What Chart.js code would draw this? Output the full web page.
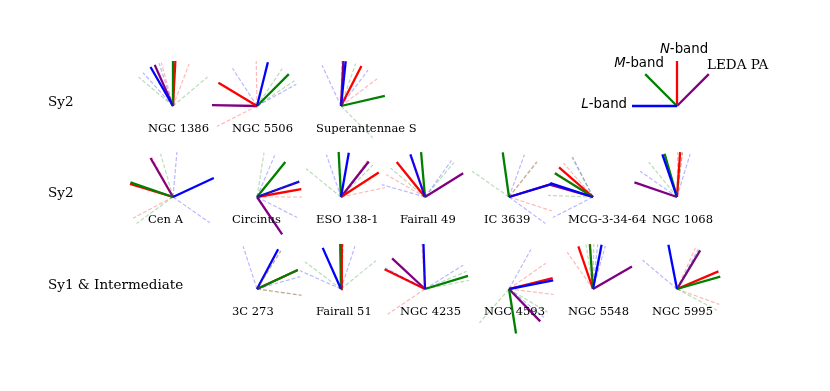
<!DOCTYPE html>
<html>
<head>
<meta charset="utf-8">
<script src="https://cdn.jsdelivr.net/npm/chart.js@4.4.1/dist/chart.umd.min.js"></script>
<style>
  html, body { margin: 0; padding: 0; background: #fff; }
  canvas { display: block; }
</style>
</head>
<body>
<canvas id="pa" width="830" height="391"></canvas>
<script>
// position angles in degrees, east of north (east = left)
const names = ['NGC 1386', 'NGC 5506', 'Superantennae S',
  'Cen A', 'Circinus', 'ESO 138-1', 'Fairall 49', 'IC 3639', 'MCG-3-34-64', 'NGC 1068',
  '3C 273', 'Fairall 51', 'NGC 4235', 'NGC 4593', 'NGC 5548', 'NGC 5995']
const groups = ['Sy2', 'Sy2', 'Sy1 & Intermediate']
const groupOf = [0, 0, 0, 1, 1, 1, 1, 1, 1, 1, 2, 2, 2, 2, 2, 2]

const lPA = [30, -14, -6, -65, -70, -10, 19, -73, 72, 19, -28, 24, 2, -79, -11, 11]
const lErr = [12, 47, 31, 60, 47, 29, 55, 53, 45, 36, 46, 42, 60, 50, 5, 39]
const mPA = [0, -45, -77, 71, -39, 3, 5, 8, 58, 16, -65, 1, -73, -171, 4, -74]
const mErr = [50, 11, 58, 55, 30, 48, 45, 47, 30, 23, 33, 52, 6, 50, 5, 44]
const nPA = [-3, 59, -27, 73, -80, -57, 39, -73, 49, -4, -65, -1, 64, -76, 19, -67]
const nErr = [18, 58, 26, 45, 10, 21, 21, 35, 8, 3, 33, 2, 60, 21, 16, 43]
const ledaPA = [24, 89, -3, 30, -146, -38, -58, null, 74, 71, null, null, 47, -136, -60, -31]

const bandNames = ['L-band', 'M-band', 'N-band', 'LEDA PA']
const legendPA = [90, 45, 0, -45]

// layout
const colX0 = 173, colStep = 84
const rowY = [106, 197, 289]
const firstCol = [0, 0, 1]
const rayLen = 45
const colors = ['#0000ff', '#008000', '#ff0000', '#800080']
const faint = ['rgba(0,0,255,0.28)', 'rgba(0,128,0,0.28)', 'rgba(255,0,0,0.28)']

const centers = []
const seen = [0, 0, 0]
names.forEach((n, i) => {
  const g = groupOf[i]
  centers.push({x: colX0 + colStep * (firstCol[g] + seen[g]), y: rowY[g]})
  seen[g]++
})

function ray(c, pa, color, dashed) {
  const r = pa * Math.PI / 180
  return {
    data: [{x: c.x, y: c.y}, {x: c.x - rayLen * Math.sin(r), y: c.y - rayLen * Math.cos(r)}],
    showLine: true,
    borderColor: color,
    borderWidth: dashed ? 1.2 : 2.3,
    borderDash: dashed ? [4, 2] : [],
    pointRadius: 0,
    fill: false
  }
}

const datasets = []
names.forEach((n, i) => {
  const c = centers[i]
  const pas = [lPA[i], mPA[i], nPA[i]]
  const errs = [lErr[i], mErr[i], nErr[i]]
  pas.forEach((p, b) => {
    datasets.push(ray(c, p - errs[b], faint[b], true))
    datasets.push(ray(c, p + errs[b], faint[b], true))
  })
  pas.forEach((p, b) => datasets.push(ray(c, p, colors[b], false)))
  if (ledaPA[i] !== null) datasets.push(ray(c, ledaPA[i], colors[3], false))
})
const legendC = {x: 677, y: 106}
legendPA.forEach((p, b) => datasets.push(ray(legendC, p, colors[b], false)))

// text made of parts with different fonts (italic band letter)
function drawParts(ctx, parts, x, y, align) {
  let w = 0
  parts.forEach(p => { ctx.font = p.font; w += ctx.measureText(p.t).width })
  let sx = align === 'right' ? x - w : align === 'center' ? x - w / 2 : x
  parts.forEach(p => {
    ctx.font = p.font
    ctx.fillText(p.t, sx, y)
    sx += ctx.measureText(p.t).width
  })
}

const labels = {
  id: 'labels',
  afterDraw(chart) {
    const ctx = chart.ctx
    const xs = chart.scales.x, ys = chart.scales.y
    ctx.save()
    ctx.fillStyle = '#000'
    ctx.textBaseline = 'middle'
    ctx.textAlign = 'left'
    ctx.font = '11.5px "DejaVu Serif"'
    names.forEach((n, i) => {
      ctx.fillText(n, xs.getPixelForValue(centers[i].x - 25), ys.getPixelForValue(centers[i].y + 23))
    })
    ctx.font = '13.5px "DejaVu Serif"'
    groups.forEach((g, k) => {
      ctx.fillText(g, xs.getPixelForValue(48), ys.getPixelForValue(rowY[k] - 4))
    })
    const it = 'italic 13.3px "DejaVu Sans"', rm = '13.3px "DejaVu Sans"'
    drawParts(ctx, [{t: 'L', font: it}, {t: '-band', font: rm}], xs.getPixelForValue(627), ys.getPixelForValue(105), 'right')
    drawParts(ctx, [{t: 'M', font: it}, {t: '-band', font: rm}], xs.getPixelForValue(639), ys.getPixelForValue(64), 'center')
    drawParts(ctx, [{t: 'N', font: it}, {t: '-band', font: rm}], xs.getPixelForValue(684), ys.getPixelForValue(50), 'center')
    drawParts(ctx, [{t: bandNames[3], font: '13.5px "DejaVu Serif"'}], xs.getPixelForValue(707), ys.getPixelForValue(65), 'left')
    ctx.restore()
  }
}

new Chart(document.getElementById('pa').getContext('2d'), {
  type: 'scatter',
  data: {datasets},
  options: {
    responsive: false,
    animation: false,
    layout: {padding: 0},
    plugins: {legend: {display: false}, tooltip: {enabled: false}},
    scales: {
      x: {type: 'linear', min: 0, max: 830, display: false},
      y: {type: 'linear', min: 0, max: 391, reverse: true, display: false}
    }
  },
  plugins: [labels]
})
</script>
</body>
</html>
